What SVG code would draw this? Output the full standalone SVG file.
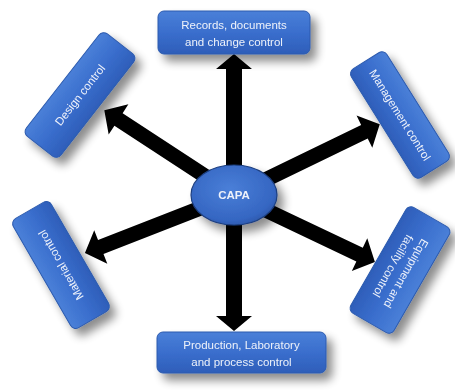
<svg xmlns="http://www.w3.org/2000/svg" width="455" height="391" viewBox="0 0 455 391">
  <defs>
    <linearGradient id="boxFill" x1="0" y1="0" x2="0" y2="1">
      <stop offset="0" stop-color="#4a80d8"/>
      <stop offset="0.5" stop-color="#3a6ecd"/>
      <stop offset="1" stop-color="#2e5eb9"/>
    </linearGradient>
    <radialGradient id="capaFill" cx="0.45" cy="0.4" r="0.65">
      <stop offset="0" stop-color="#4a7fd8"/>
      <stop offset="0.8" stop-color="#3566c2"/>
      <stop offset="1" stop-color="#2a55a6"/>
    </radialGradient>
    <filter id="shadow" x="-30%" y="-30%" width="170%" height="170%">
      <feGaussianBlur in="SourceAlpha" stdDeviation="5"/>
      <feOffset dx="6" dy="7" result="blur"/>
      <feComponentTransfer><feFuncA type="linear" slope="0.45"/></feComponentTransfer>
      <feMerge><feMergeNode/><feMergeNode in="SourceGraphic"/></feMerge>
    </filter>
    <style>
      .box { fill: url(#boxFill); stroke: #2c5aae; stroke-width: 1; }
      .lbl { font-family: "Liberation Sans", Arial, sans-serif; font-size: 11.5px; fill: #eef2fa; text-anchor: middle; }
      .arrow { fill: #000; }
    </style>
  </defs>

  <rect width="455" height="391" fill="#ffffff"/>

  <!-- connectors: thick arrows radiating from CAPA -->
  <g id="connectors">
    <g transform="translate(234,195) rotate(-90)"><polygon class="arrow" points="0,-8 126,-8 126,-18 141,0 126,18 126,8 0,8"/></g>
    <g transform="translate(234,195) rotate(90)"><polygon class="arrow" points="0,-8 121,-8 121,-18 136,0 121,18 121,8 0,8"/></g>
    <g transform="translate(234,195) rotate(-146.8)"><polygon class="arrow" points="0,-7.5 138,-7.5 138,-18 155,0 138,18 138,7.5 0,7.5"/></g>
    <g transform="translate(234,195) rotate(-25.9)"><polygon class="arrow" points="0,-7.5 145,-7.5 145,-18 162,0 145,18 145,7.5 0,7.5"/></g>
    <g transform="translate(234,195) rotate(158.7)"><polygon class="arrow" points="0,-7.5 143,-7.5 143,-18 160,0 143,18 143,7.5 0,7.5"/></g>
    <g transform="translate(234,195) rotate(25.4)"><polygon class="arrow" points="0,-7.5 139,-7.5 139,-18 156,0 139,18 139,7.5 0,7.5"/></g>
  </g>

  <!-- outer boxes -->
  <g id="records" filter="url(#shadow)">
    <rect class="box" x="158" y="11" width="152" height="43" rx="6"/>
    <text class="lbl" x="234" y="29" font-size="12">Records, documents</text>
    <text class="lbl" x="234" y="46" font-size="12">and change control</text>
  </g>

  <g id="production" filter="url(#shadow)">
    <rect class="box" x="157" y="332" width="169" height="41" rx="6"/>
    <text class="lbl" x="241.5" y="349" font-size="12">Production, Laboratory</text>
    <text class="lbl" x="241.5" y="366" font-size="12">and process control</text>
  </g>

  <g id="design" filter="url(#shadow)">
    <g transform="translate(80,95) rotate(-52)">
      <rect class="box" x="-65" y="-22" width="130" height="44" rx="6"/>
      <text class="lbl" x="0" y="4">Design control</text>
    </g>
  </g>

  <g id="management" filter="url(#shadow)">
    <g transform="translate(400,115) rotate(58)">
      <rect class="box" x="-64" y="-21" width="128" height="42" rx="6"/>
      <text class="lbl" x="0" y="4">Management  control</text>
    </g>
  </g>

  <g id="material" filter="url(#shadow)">
    <g transform="translate(61,265) rotate(-120)">
      <rect class="box" x="-63" y="-22" width="126" height="44" rx="6"/>
      <text class="lbl" x="0" y="4">Material  control</text>
    </g>
  </g>

  <g id="equipment" filter="url(#shadow)">
    <g transform="translate(400,270) rotate(120)">
      <rect class="box" x="-61" y="-25" width="122" height="50" rx="6"/>
      <text class="lbl" x="0" y="-3">Equipment  and</text>
      <text class="lbl" x="0" y="12">facility control</text>
    </g>
  </g>

  <!-- central node -->
  <g id="capa" filter="url(#shadow)">
    <ellipse cx="234" cy="195" rx="43" ry="30" fill="url(#capaFill)" stroke="#1d3f80" stroke-width="1.2"/>
    <text class="lbl" x="234" y="199" font-weight="bold" font-size="11">CAPA</text>
  </g>
</svg>
